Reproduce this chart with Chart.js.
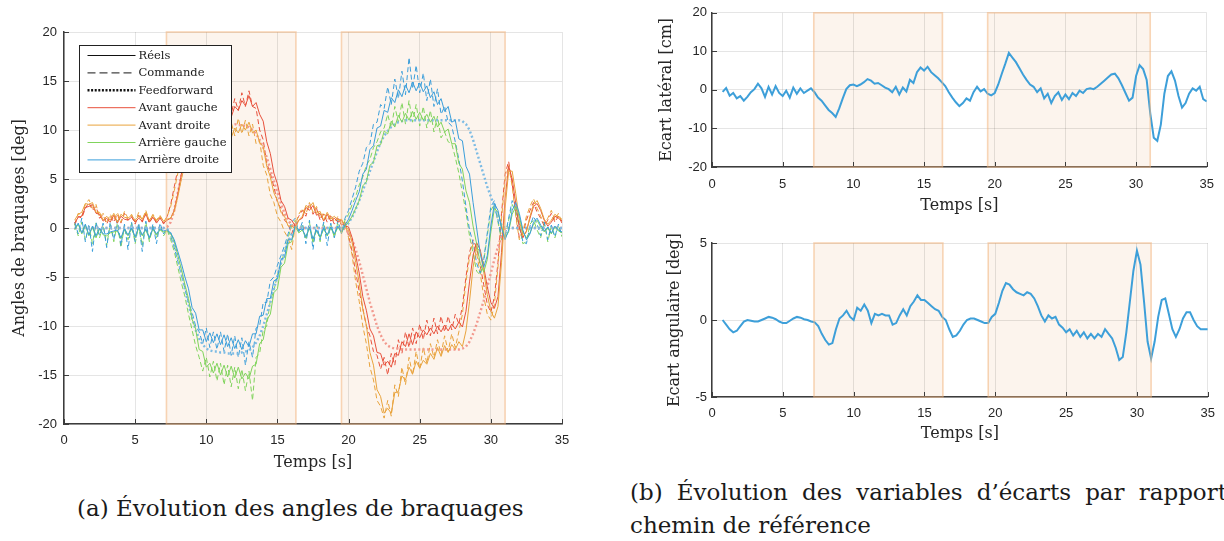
<!DOCTYPE html>
<html lang="fr">
<head>
<meta charset="utf-8">
<title>Braquages et écarts</title>
<script src="https://cdn.jsdelivr.net/npm/chart.js@4.4.1/dist/chart.umd.min.js"></script>
<style>
  html,body{margin:0;padding:0;background:#fff;overflow:hidden;}
  body{width:1224px;height:541px;position:relative;}
  canvas{position:absolute;}
  #cBraq{left:0;top:0;}
  #cLat{left:640px;top:0;}
  #cAng{left:640px;top:225px;}
  .cap{position:absolute;font-family:"DejaVu Serif",serif;font-size:23px;color:#1a1a1a;white-space:nowrap;line-height:28px;}
  #capA{left:77px;top:494px;}
  #capB1{left:630px;top:478px;}
  #capB2{left:630px;top:511px;}
</style>
</head>
<body>
<canvas id="cBraq" width="600" height="480"></canvas>
<canvas id="cLat" width="584" height="220"></canvas>
<canvas id="cAng" width="584" height="230"></canvas>
<div class="cap" id="capA">(a) Évolution des angles de braquages</div>
<div class="cap" id="capB1">(b) Évolution des variables d’écarts par rapport</div>
<div class="cap" id="capB2">chemin de référence</div>
<script>
// échantillonnage des signaux : t = T0 + i*DT  [s]
const T0 = 0.75, DT = 0.25;
// phases de virage (zones grisées) [s]
const ZONES = [[7.2, 16.3], [19.5, 31.0]];

// angles de braquage [deg] — avant gauche
const AG_REEL = [
  0.5, 1.1, 1.2, 2.1, 2.2, 2.4, 1.5, 1.4,
  0.7, 1.0, 0.6, 1.3, 0.5, 1.2, 0.9, 0.8,
  1.1, 0.6, 1.0, 0.7, 1.4, 0.6, 1.1, 0.5,
  1.0, 0.5, 0.8, 1.0, 1.8, 3.5, 5.5, 7.2,
  8.5, 9.6, 9.8, 10.9, 10.6, 11.6, 10.8, 11.8,
  11.0, 12.0, 11.1, 12.2, 11.3, 12.4, 12.0, 13.0,
  12.5, 13.5, 12.4, 12.8, 11.6, 10.9, 8.8, 7.6,
  5.6, 4.5, 2.8, 2.2, 1.0, 0.8, 0.2, 0.8,
  1.0, 2.1, 1.8, 2.3, 1.3, 1.5, 0.7, 1.4,
  0.7, 1.0, 0.6, 0.8, 0.2, 0.1, -1.0, -2.8,
  -4.6, -7.0, -8.4, -10.3, -11.0, -12.7, -12.8, -14.0,
  -13.6, -14.2, -12.8, -13.0, -11.6, -12.1, -10.8, -11.9,
  -10.6, -11.2, -10.4, -10.9, -10.2, -10.8, -10.0, -10.6,
  -9.9, -10.5, -9.8, -10.3, -9.6, -10.1, -8.5, -5.5,
  -2.8, -1.5, -2.2, -4.0, -6.0, -7.6, -8.2, -7.0,
  -2.5, 3.0, 6.3, 5.0, 2.5, 0.0, -1.0, -0.3,
  1.0, 2.2, 2.5, 1.8, 0.8, 0.2, 0.6, 1.2,
  1.0, 0.7
];
const AG_CMD = [
  0.3, 1.2, 1.0, 2.0, 2.6, 1.8, 2.2, 1.0,
  1.3, 0.4, 1.2, 0.6, 1.4, 0.5, 1.5, 0.8,
  1.2, 0.4, 1.3, 0.6, 1.5, 0.5, 1.2, 0.6,
  1.1, 0.4, 1.2, 2.4, 4.2, 6.0, 7.8, 8.8,
  9.8, 10.9, 10.8, 11.6, 11.0, 12.2, 11.0, 12.6,
  11.2, 12.6, 11.4, 12.8, 11.6, 13.2, 12.0, 13.8,
  12.4, 14.0, 12.4, 12.2, 10.0, 9.0, 6.6, 5.6,
  4.2, 2.6, 2.0, 0.8, 0.4, -0.6, 0.5, 1.2,
  1.8, 1.2, 2.5, 1.4, 2.0, 0.8, 1.4, 0.6,
  1.2, 0.4, 1.0, 0.3, 0.6, -0.8, -2.4, -4.5,
  -6.5, -8.2, -10.0, -11.0, -12.6, -13.0, -14.4, -13.2,
  -15.0, -12.8, -14.0, -11.4, -12.8, -10.6, -12.2, -10.2,
  -11.8, -9.8, -11.4, -9.4, -11.0, -9.2, -10.8, -9.0,
  -10.6, -9.0, -10.4, -8.8, -9.8, -8.0, -5.0, -2.5,
  -1.2, -2.0, -3.8, -5.8, -7.8, -8.6, -7.0, -3.5,
  1.5, 5.5, 6.8, 4.5, 1.5, -1.0, -0.6, 0.8,
  1.8, 2.6, 1.6, 1.0, 0.2, 0.8, 1.5, 0.6,
  1.2, 0.5
];
// avant droite
const AD_REEL = [
  0.8, 1.4, 1.6, 2.5, 2.4, 2.6, 1.6, 1.6,
  0.8, 1.2, 0.8, 1.5, 0.6, 1.4, 1.1, 1.0,
  1.3, 0.8, 1.2, 0.9, 1.6, 0.8, 1.3, 0.7,
  1.2, 0.7, 0.9, 1.0, 1.7, 3.2, 5.0, 6.5,
  7.5, 8.5, 8.4, 9.4, 9.0, 9.8, 8.9, 9.9,
  9.1, 10.0, 9.0, 10.1, 9.2, 10.2, 9.7, 10.6,
  10.0, 10.8, 9.7, 10.0, 8.7, 8.3, 6.3, 5.2,
  3.6, 2.8, 1.6, 1.2, 0.2, 0.2, -0.1, 0.8,
  1.2, 2.3, 2.1, 2.6, 1.5, 1.7, 0.8, 1.6,
  0.9, 1.2, 0.8, 0.9, 0.2, -0.2, -1.5, -3.5,
  -5.6, -8.3, -9.9, -12.7, -14.0, -16.5, -17.2, -18.9,
  -18.4, -18.9, -16.8, -16.7, -15.1, -15.5, -14.2, -14.9,
  -13.6, -14.3, -13.5, -13.9, -12.8, -13.4, -12.2, -13.1,
  -12.0, -12.7, -11.9, -12.4, -11.6, -12.1, -10.5, -7.5,
  -4.0, -2.0, -2.4, -4.5, -6.8, -8.5, -9.2, -8.0,
  -3.5, 2.0, 5.8, 5.8, 3.5, 0.8, -0.8, -0.4,
  1.2, 2.4, 2.8, 2.0, 0.9, 0.4, 0.8, 1.4,
  1.1, 0.9
];
const AD_CMD = [
  0.4, 1.5, 1.2, 2.4, 2.9, 2.0, 2.4, 1.1,
  1.5, 0.5, 1.4, 0.8, 1.6, 0.6, 1.7, 1.0,
  1.4, 0.6, 1.6, 0.8, 1.8, 0.7, 1.4, 0.8,
  1.3, 0.6, 1.2, 2.2, 3.8, 5.6, 7.0, 7.8,
  8.6, 8.0, 9.8, 8.6, 10.3, 8.8, 10.6, 9.0,
  10.6, 9.0, 10.9, 9.2, 10.8, 9.4, 11.2, 9.6,
  11.0, 9.4, 10.6, 8.6, 8.9, 6.4, 5.4, 3.4,
  2.6, 1.2, 0.6, -0.4, -1.0, -2.2, 0.2, 1.4,
  2.0, 1.4, 2.6, 1.6, 2.2, 1.0, 1.6, 0.8,
  1.4, 0.6, 1.2, 0.4, 0.6, -1.0, -2.8, -5.5,
  -7.5, -10.0, -11.8, -14.2, -15.5, -17.6, -18.2, -19.4,
  -17.6, -19.2, -16.0, -17.2, -14.2, -16.0, -13.2, -15.0,
  -12.6, -14.4, -12.2, -13.8, -11.8, -13.2, -11.4, -12.9,
  -11.0, -12.6, -10.8, -12.2, -10.6, -8.8, -5.5, -3.0,
  -1.6, -2.6, -4.6, -7.0, -8.8, -9.4, -7.8, -4.0,
  1.0, 4.8, 6.4, 4.2, 1.2, -1.2, -0.4, 1.2,
  2.2, 3.0, 2.0, 1.2, 0.4, 1.0, 1.8, 0.8,
  1.5, 0.6
];
// arrière gauche
const ARG_REEL = [
  -0.2, 0.4, -0.6, 0.3, -0.8, 0.1, -1.0, -0.1,
  -0.7, -0.8, -0.5, -0.4, -0.3, -1.1, -0.2, -0.8,
  -0.1, -1.0, 0.0, -0.8, -0.2, -1.1, -0.1, -0.7,
  -0.2, -0.4, -0.3, -0.6, -1.4, -2.8, -4.2, -5.8,
  -7.2, -9.3, -10.3, -12.4, -12.6, -14.2, -13.8, -14.8,
  -13.8, -15.0, -14.0, -15.2, -14.1, -15.3, -14.2, -15.4,
  -14.8, -15.4, -14.1, -13.9, -11.8, -11.4, -9.4, -8.8,
  -6.6, -6.2, -4.0, -3.6, -1.6, -1.4, 0.2, -0.5,
  -0.2, -1.0, 0.0, -1.2, -0.3, -1.0, -0.1, -0.8,
  0.0, -0.7, 0.1, -0.5, 0.2, 0.6, 1.2, 2.0,
  2.8, 4.3, 4.7, 6.4, 6.7, 8.4, 8.5, 9.9,
  9.6, 10.9, 10.3, 11.5, 10.8, 11.7, 11.0, 11.9,
  11.1, 11.8, 11.0, 11.6, 10.8, 11.4, 10.3, 10.8,
  9.8, 10.1, 8.6, 8.6, 6.6, 6.0, 3.8, 2.6,
  0.2, -1.6, -3.6, -4.5, -3.2, -0.4, 2.0, 1.6,
  0.2, -1.0, -0.4, 1.4, 2.2, 1.2, -0.4, -1.0,
  -0.5, 0.4, 0.8, 0.1, -0.4, 0.0, -0.6, 0.1,
  -0.3, -0.5
];
const ARG_CMD = [
  0.4, -0.8, 0.6, -1.2, 0.2, -1.6, 0.5, -1.0,
  0.3, -1.8, 0.4, -1.4, 0.5, -2.0, 0.2, -1.2,
  0.5, -1.6, 0.3, -1.8, 0.6, -1.4, 0.2, -1.0,
  0.3, -0.8, -0.2, -1.2, -2.4, -4.0, -5.6, -7.0,
  -8.8, -10.4, -12.0, -13.2, -14.6, -13.2, -15.2, -13.6,
  -15.6, -13.8, -16.0, -14.0, -16.2, -14.2, -16.4, -14.4,
  -16.6, -14.6, -17.6, -13.2, -12.8, -10.4, -10.0, -7.4,
  -6.4, -4.8, -3.6, -2.4, -1.0, 0.2, 0.8, -0.4,
  0.4, -1.2, 0.6, -1.6, 0.3, -1.4, 0.5, -0.8,
  0.4, -1.0, 0.6, -0.4, 0.8, 1.4, 2.4, 3.2,
  4.4, 5.2, 6.4, 7.0, 8.2, 8.8, 9.8, 10.2,
  11.6, 10.2, 12.4, 10.8, 12.8, 10.6, 13.0, 10.8,
  12.6, 10.4, 12.4, 10.2, 12.0, 9.8, 11.4, 9.2,
  9.8, 8.8, 8.6, 7.2, 5.6, 3.6, 1.6, -0.8,
  -2.6, -4.4, -4.8, -3.4, -0.8, 1.8, 2.4, 0.6,
  -1.2, -1.0, 0.8, 2.4, 1.6, 0.2, -1.6, -1.4,
  0.4, 0.8, -0.2, -1.0, 0.6, -1.4, 0.2, -1.0,
  0.3, -0.9
];
// arrière droite
const ARD_REEL = [
  -0.1, 0.5, -0.5, 0.4, -0.7, 0.2, -0.8, 0.0,
  -0.6, -0.6, -0.4, -0.3, -0.2, -1.0, -0.1, -0.7,
  0.0, -0.9, 0.1, -0.7, -0.1, -1.0, 0.0, -0.6,
  -0.1, -0.3, -0.2, -0.5, -1.2, -2.4, -3.6, -5.0,
  -6.2, -8.1, -8.7, -10.4, -10.4, -11.6, -10.7, -11.7,
  -10.8, -11.9, -10.9, -12.1, -11.2, -12.3, -11.4, -12.4,
  -11.5, -12.1, -10.8, -10.8, -9.0, -8.9, -7.2, -7.2,
  -5.4, -5.2, -3.2, -3.0, -1.2, -1.2, 0.2, -0.2,
  -0.1, -0.9, 0.1, -1.1, -0.2, -0.9, 0.0, -0.7,
  0.1, -0.6, 0.2, -0.4, 0.3, 0.9, 1.8, 2.8,
  3.7, 5.5, 6.0, 8.0, 8.4, 10.2, 10.4, 12.0,
  11.8, 13.3, 12.8, 14.1, 13.4, 14.6, 13.8, 14.9,
  14.0, 14.8, 13.9, 14.5, 13.3, 13.9, 12.6, 13.2,
  11.9, 12.4, 10.8, 11.0, 9.1, 8.9, 6.3, 5.5,
  2.6, 0.0, -2.6, -4.0, -2.8, 0.2, 2.5, 1.8,
  0.0, -1.2, -0.2, 1.8, 2.6, 1.5, -0.2, -1.2,
  -0.6, 0.6, 1.0, 0.3, -0.3, 0.1, -0.5, 0.2,
  -0.2, -0.4
];
const ARD_CMD = [
  0.6, -0.6, 1.0, -1.4, 0.4, -2.4, 0.6, -0.8,
  0.5, -2.0, 0.6, -1.2, 0.8, -1.8, 0.4, -2.2,
  0.6, -1.4, 0.5, -2.4, 0.7, -1.2, 0.4, -1.6,
  0.5, -0.6, -0.1, -0.8, -2.0, -3.4, -4.8, -6.2,
  -7.6, -8.6, -10.0, -10.6, -11.8, -10.2, -12.2, -10.6,
  -12.4, -10.6, -12.6, -10.8, -13.0, -11.0, -13.2, -11.2,
  -14.0, -11.6, -13.2, -10.2, -10.0, -7.6, -7.6, -5.4,
  -5.0, -3.8, -2.8, -1.8, -0.6, 0.6, 1.0, -0.4,
  0.6, -1.6, 0.8, -2.2, 0.4, -1.2, 0.6, -1.8,
  0.5, -1.0, 0.8, -0.6, 1.0, 1.8, 3.0, 4.2,
  5.8, 6.6, 8.2, 8.6, 10.6, 10.8, 12.6, 12.2,
  14.4, 12.6, 15.2, 13.2, 16.0, 13.6, 17.4, 14.2,
  16.6, 13.8, 15.8, 13.0, 15.2, 12.4, 14.2, 11.6,
  12.4, 10.8, 10.4, 8.8, 7.0, 4.8, 2.2, -0.2,
  -1.5, -3.6, -4.6, -3.2, -0.5, 2.2, 2.8, 0.8,
  -1.0, -0.8, 1.0, 2.8, 2.0, 0.4, -1.4, -1.6,
  0.2, 1.2, 0.4, -0.8, 0.6, -1.2, 0.3, -0.9,
  0.4, -0.8
];
// consignes feedforward (avant, arrière)
const FF_AVANT = [
  0, 0, 0, 0, 0, 0, 0, 0,
  0, 0, 0, 0, 0, 0, 0, 0,
  0, 0, 0, 0, 0, 0, 0, 0,
  0, 0, 0.1, 0.6, 1.8, 3.6, 5.4, 7.0,
  8.2, 9.1, 9.7, 10.1, 10.3, 10.4, 10.5, 10.5,
  10.5, 10.5, 10.6, 10.6, 10.6, 10.6, 10.5, 10.5,
  10.4, 10.3, 10.0, 9.6, 9.0, 8.2, 7.2, 6.0,
  4.8, 3.6, 2.5, 1.5, 0.8, 0.3, 0.0, 0.0,
  0, 0, 0, 0, 0, 0, 0, 0,
  0, 0, 0, 0, -0.1, -0.5, -1.2, -2.2,
  -3.4, -4.8, -6.2, -7.6, -8.8, -10.0, -10.9, -11.6,
  -12.0, -12.2, -12.3, -12.3, -12.4, -12.4, -12.4, -12.4,
  -12.4, -12.4, -12.4, -12.4, -12.4, -12.4, -12.4, -12.4,
  -12.4, -12.4, -12.4, -12.4, -12.4, -12.3, -12.1, -11.6,
  -10.8, -9.8, -8.6, -7.4, -6.0, -4.6, -3.2, -1.9,
  -0.8, 0, 0, 0, 0, 0, 0, 0,
  0, 0, 0, 0, 0, 0, 0, 0,
  0, 0
];
const FF_ARRIERE = [
  0, 0, 0, 0, 0, 0, 0, 0,
  0, 0, 0, 0, 0, 0, 0, 0,
  0, 0, 0, 0, 0, 0, 0, 0,
  0, 0, -0.1, -0.6, -1.6, -3.0, -4.6, -6.2,
  -7.8, -9.2, -10.4, -11.3, -11.9, -12.3, -12.5, -12.6,
  -12.6, -12.7, -12.7, -12.8, -12.8, -12.8, -12.8, -12.7,
  -12.6, -12.5, -12.2, -11.7, -11.0, -10.0, -8.8, -7.6,
  -6.2, -4.9, -3.6, -2.4, -1.4, -0.6, -0.1, 0,
  0, 0, 0, 0, 0, 0, 0, 0,
  0, 0, 0, 0, 0.1, 0.5, 1.1, 1.9,
  2.8, 3.8, 4.8, 5.8, 6.8, 7.8, 8.7, 9.4,
  9.9, 10.3, 10.6, 10.8, 10.9, 11.0, 11.0, 11.0,
  11.0, 11.0, 11.0, 11.0, 11.0, 11.0, 11.0, 11.0,
  11.0, 11.0, 11.0, 11.0, 11.0, 10.9, 10.6, 10.0,
  9.0, 7.8, 6.6, 5.4, 4.2, 3.2, 2.2, 1.0,
  0.3, 0, 0, 0, 0, 0, 0, 0,
  0, 0, 0, 0, 0, 0, 0, 0,
  0, 0
];
// écart latéral [cm]
const ECART_LAT = [
  -0.5, 0.5, -1.5, -0.8, -2.2, -1.6, -2.8, -1.8,
  -0.6, 0.2, 1.6, 0.4, -1.8, 0.8, -1.2, 1.0,
  -0.8, -1.6, -0.2, -2.0, 0.6, -1.0, 0.4, -0.8,
  -0.2, 0.4, -0.6, -2.0, -2.8, -4.0, -5.2, -6.0,
  -7.0, -4.8, -2.2, 0.2, 1.2, 1.4, 1.0, 1.4,
  2.0, 2.8, 2.4, 1.6, 1.8, 1.2, 0.6, 0.2,
  -0.6, 0.8, -1.2, 0.6, -0.4, 2.6, 1.8, 4.6,
  5.8, 5.0, 6.0, 4.6, 3.8, 3.0, 2.0, 1.0,
  -0.6, -2.0, -3.2, -4.2, -3.4, -2.2, -2.8, -0.6,
  0.8, -0.4, 0.2, -1.0, -1.4, -0.8, 1.4, 4.2,
  6.8, 9.6, 8.4, 7.2, 5.6, 4.0, 2.6, 1.4,
  0.8, -0.6, 0.4, -2.2, -1.0, -3.4, -1.6, -0.6,
  -2.6, -1.2, -2.4, -0.8, -1.6, -0.2, -0.8, 0.2,
  0.4, 0.2, 0.8, 1.6, 2.4, 3.2, 4.0, 4.2,
  3.0, 1.2, -0.8, -2.8, -2.0, 3.6, 6.4, 5.4,
  2.6, -6.0, -12.4, -13.2, -9.0, -1.0, 3.6, 4.8,
  2.4, -1.6, -4.6, -3.4, -1.0, 0.4, -0.2, 0.8,
  -2.4, -3.0
];
// écart angulaire [deg]
const ECART_ANG = [
  0.0, -0.3, -0.6, -0.8, -0.7, -0.4, -0.1, 0.0,
  -0.05, -0.1, -0.1, 0.0, 0.1, 0.2, 0.15, 0.05,
  -0.1, -0.2, -0.2, -0.05, 0.1, 0.2, 0.15, 0.05,
  0.0, -0.1, -0.15, -0.4, -0.9, -1.3, -1.6, -1.5,
  -0.6, 0.1, 0.3, 0.6, 0.2, 0.0, 0.8, 0.6,
  1.0, 0.6, -0.2, 0.4, 0.3, 0.4, 0.3, 0.3,
  -0.3, -0.2, 0.3, 0.7, 0.3, 0.9, 1.2, 1.6,
  1.3, 1.3, 1.1, 0.9, 0.7, 0.6, 0.2, 0.0,
  -0.6, -1.1, -1.0, -0.7, -0.3, 0.0, 0.1, 0.1,
  0.0, -0.1, -0.2, -0.2, 0.2, 0.4, 1.1, 1.9,
  2.4, 2.3, 2.0, 1.8, 1.7, 1.6, 1.8, 1.7,
  1.4, 0.9, 0.3, -0.1, 0.3, 0.1, 0.2, -0.3,
  -0.5, -0.8, -0.6, -1.0, -0.7, -1.1, -0.8, -1.2,
  -0.9, -1.2, -0.9, -1.1, -0.6, -0.9, -1.2, -1.8,
  -2.6, -2.4, -0.8, 1.2, 3.2, 4.5, 3.6, 1.2,
  -1.4, -2.5, -1.4, 0.2, 1.3, 1.4, 0.4, -0.6,
  -1.1, -0.6, 0.1, 0.5, 0.5, 0.0, -0.4, -0.6,
  -0.6, -0.6
];

const TEMPS = AG_REEL.map((_, i) => T0 + i * DT);

const ROUGE = '#e8513c', ORANGE = '#e9a33c', VERT = '#80d45c', BLEU = '#3a9edb';
const ROSE_FF = '#f2998e', BLEU_FF = '#7cbbe4';
const TRAIT_ECART = '#3d9fd9';
const AXE = '#3c3c3c';
const POLICE_TICKS = {family: 'Liberation Sans', size: 13};
const POLICE_TITRE = {family: 'DejaVu Serif', size: 16};

const LEGENDE_TEXTES = ['Réels', 'Commande', 'Feedforward',
  'Avant gauche', 'Avant droite', 'Arrière gauche', 'Arrière droite'];
const LEGENDE_STYLES = [
  {c: '#111', w: 1, d: []},
  {c: '#444', w: 1.2, d: [8, 4]},
  {c: '#111', w: 2.4, d: [2, 1.6]},
  {c: ROUGE, w: 1, d: []},
  {c: ORANGE, w: 1, d: []},
  {c: VERT, w: 1, d: []},
  {c: BLEU, w: 1, d: []}
];

// zones de virage + graduations tournées vers l'intérieur
const cadre = {
  id: 'cadre',
  beforeDraw(chart) {
    const {ctx, chartArea: a, scales: {x}} = chart;
    ctx.save();
    ctx.fillStyle = '#fcf4ed';
    ZONES.forEach(([d, f]) => {
      const x0 = x.getPixelForValue(d), x1 = x.getPixelForValue(f);
      ctx.fillRect(x0, a.top, x1 - x0, a.bottom - a.top);
    });
    ctx.restore();
  },
  beforeDatasetsDraw(chart) {
    const {ctx, chartArea: a, scales: {x, y}} = chart;
    ctx.save();
    ctx.strokeStyle = AXE;
    ctx.lineWidth = 1;
    ctx.beginPath();
    x.ticks.forEach(t => {
      const px = Math.round(x.getPixelForValue(t.value)) + 0.5;
      ctx.moveTo(px, a.bottom); ctx.lineTo(px, a.bottom - 5);
    });
    y.ticks.forEach(t => {
      const py = Math.round(y.getPixelForValue(t.value)) + 0.5;
      ctx.moveTo(a.left, py); ctx.lineTo(a.left + 5, py);
    });
    ctx.stroke();
    ctx.restore();
  },
  afterDraw(chart) {
    const {ctx, chartArea: a, scales: {x}} = chart;
    ctx.save();
    ctx.strokeStyle = 'rgba(243,180,125,0.55)';
    ctx.lineWidth = 1.6;
    ZONES.forEach(([d, f]) => {
      const x0 = x.getPixelForValue(d), x1 = x.getPixelForValue(f);
      ctx.strokeRect(x0, a.top, x1 - x0, a.bottom - a.top);
    });
    ctx.restore();
  }
};

const legende = {
  id: 'legende',
  afterDraw(chart) {
    const {ctx, chartArea: a} = chart;
    const bx = a.left + 15.5, by = a.top + 13.5, bw = 152, bh = 127;
    ctx.save();
    ctx.fillStyle = '#fff';
    ctx.fillRect(bx, by, bw, bh);
    ctx.strokeStyle = '#222';
    ctx.lineWidth = 1;
    ctx.strokeRect(bx, by, bw, bh);
    ctx.font = '11.5px "DejaVu Serif"';
    ctx.textBaseline = 'middle';
    LEGENDE_TEXTES.forEach((txt, i) => {
      const s = LEGENDE_STYLES[i];
      const ly = by + 10 + i * 17.4;
      ctx.strokeStyle = s.c;
      ctx.lineWidth = s.w;
      ctx.setLineDash(s.d);
      ctx.beginPath();
      ctx.moveTo(bx + 8, ly); ctx.lineTo(bx + 56, ly);
      ctx.stroke();
      ctx.setLineDash([]);
      ctx.fillStyle = '#1a1a1a';
      ctx.fillText(txt, bx + 59, ly + 0.5);
    });
    ctx.restore();
  }
};

function trace(data, couleur, largeur, tirets) {
  return {data, borderColor: couleur, borderWidth: largeur, borderDash: tirets,
    pointRadius: 0, tension: 0, fill: false};
}

function echelles(o) {
  return {
    x: {
      type: 'linear', min: 0, max: 35,
      afterFit: s => { s.height = o.hx; },
      ticks: {stepSize: 5, font: POLICE_TICKS, color: '#262626', padding: o.px, maxRotation: 0},
      grid: {color: 'rgba(0,0,0,0.1)', lineWidth: 1, drawTicks: false},
      border: {display: true, color: AXE, width: 1.5},
      title: {display: true, text: 'Temps [s]', font: POLICE_TITRE, color: '#262626',
        padding: {top: 0, bottom: o.tx}}
    },
    y: {
      min: o.ymin, max: o.ymax,
      afterFit: s => { s.width = o.wy; },
      ticks: {stepSize: o.pas, font: POLICE_TICKS, color: '#262626', padding: o.py},
      grid: {color: 'rgba(0,0,0,0.1)', lineWidth: 1, drawTicks: false},
      border: {display: true, color: AXE, width: 1.5},
      title: {display: true, text: o.titre, font: POLICE_TITRE, color: '#262626',
        padding: {top: o.ty, bottom: 0}}
    }
  };
}

const base = {
  responsive: false, animation: false, events: [],
  plugins: {legend: {display: false}, tooltip: {enabled: false}}
};

// (a) angles de braquage : commandes, feedforward, puis réels au-dessus
const couches = [
  trace(AG_CMD, ROUGE, 1, [5, 3]),
  trace(AD_CMD, ORANGE, 1, [5, 3]),
  trace(ARG_CMD, VERT, 1, [5, 3]),
  trace(ARD_CMD, BLEU, 1, [5, 3]),
  trace(FF_AVANT, ROSE_FF, 2.4, [2, 2.4]),
  trace(FF_ARRIERE, BLEU_FF, 2.4, [2, 2.4]),
  trace(AG_REEL, ROUGE, 1, []),
  trace(AD_REEL, ORANGE, 1, []),
  trace(ARG_REEL, VERT, 1, []),
  trace(ARD_REEL, BLEU, 1, [])
];
couches.forEach((c, i) => { c.order = couches.length - i; });

new Chart(document.getElementById('cBraq'), {
  type: 'line',
  data: {labels: TEMPS, datasets: couches},
  options: Object.assign({}, base, {
    layout: {padding: {left: 0, top: 32, right: 38, bottom: 0}},
    scales: echelles({hx: 56, px: 9, tx: 8, wy: 64, py: 7, ty: 10,
      ymin: -20, ymax: 20, pas: 5, titre: 'Angles de braquages [deg]'})
  }),
  plugins: [cadre, legende]
});

// (b) écarts par rapport au chemin
new Chart(document.getElementById('cLat'), {
  type: 'line',
  data: {labels: TEMPS, datasets: [trace(ECART_LAT, TRAIT_ECART, 2, [])]},
  options: Object.assign({}, base, {
    layout: {padding: {left: 0, top: 12, right: 14, bottom: 0}},
    scales: echelles({hx: 53, px: 10, tx: 5, wy: 72, py: 5, ty: 17,
      ymin: -20, ymax: 20, pas: 10, titre: 'Ecart latéral [cm]'})
  }),
  plugins: [cadre]
});

new Chart(document.getElementById('cAng'), {
  type: 'line',
  data: {labels: TEMPS, datasets: [trace(ECART_ANG, TRAIT_ECART, 2, [])]},
  options: Object.assign({}, base, {
    layout: {padding: {left: 0, top: 18, right: 14, bottom: 0}},
    scales: echelles({hx: 58, px: 9, tx: 12, wy: 72, py: 5, ty: 25,
      ymin: -5, ymax: 5, pas: 5, titre: 'Ecart angulaire [deg]'})
  }),
  plugins: [cadre]
});

// première ligne de la légende (b) justifiée jusqu'au bord
const b1 = document.getElementById('capB1');
const espaces = b1.textContent.split(' ').length - 1;
b1.style.wordSpacing = ((1227 - 630 - b1.offsetWidth) / espaces) + 'px';
</script>
</body>
</html>
